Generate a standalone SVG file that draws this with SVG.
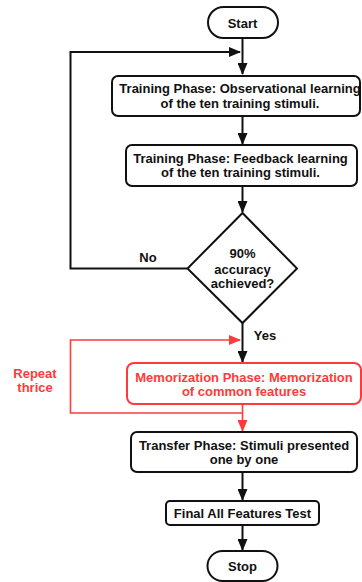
<svg xmlns="http://www.w3.org/2000/svg" width="362" height="582" viewBox="0 0 362 582">
<style>
text{font-family:"Liberation Sans",Arial,sans-serif;font-weight:bold;font-size:13px;text-anchor:middle;fill:#111}
.box{fill:#fff;stroke:#111;stroke-width:2}
.red{fill:#fff;stroke:#ff3a3a;stroke-width:2}
.rt{fill:#ff3a3a}
.ln{fill:none;stroke:#111;stroke-width:2}
.rl{fill:none;stroke:#ff3a3a;stroke-width:1.6}
</style>
<defs>
<marker id="ah" markerWidth="12" markerHeight="10" refX="11" refY="5" orient="auto" markerUnits="userSpaceOnUse">
<path d="M0,0 L12,5 L0,10 Z" fill="#111"/>
</marker>
<marker id="ahr" markerWidth="12" markerHeight="10" refX="11" refY="5" orient="auto" markerUnits="userSpaceOnUse">
<path d="M0,0 L12,5 L0,10 Z" fill="#ff3a3a"/>
</marker>
</defs>
<rect width="362" height="582" fill="#fff"/>
<g id="connectors">
<line class="ln" x1="242.5" y1="38" x2="242.5" y2="74" marker-end="url(#ah)"/>
<line class="ln" x1="242.5" y1="116" x2="242.5" y2="144" marker-end="url(#ah)"/>
<line class="ln" x1="242.5" y1="186" x2="242.5" y2="212" marker-end="url(#ah)"/>
<polyline class="ln" points="187,268.5 70.5,268.5 70.5,52 240,52" marker-end="url(#ah)"/>
<line class="ln" x1="242.5" y1="323" x2="242.5" y2="362" marker-end="url(#ah)"/>
<polyline class="rl" points="242.5,413 70.5,413 70.5,340 240,340" marker-end="url(#ahr)"/>
<line class="rl" x1="242.5" y1="404" x2="242.5" y2="431" stroke-width="2" marker-end="url(#ahr)"/>
<line class="ln" x1="242.5" y1="472" x2="242.5" y2="500" marker-end="url(#ah)"/>
<line class="ln" x1="242.5" y1="525" x2="242.5" y2="550" marker-end="url(#ah)"/>
<text x="148" y="262">No</text>
<text x="265" y="339.5">Yes</text>
</g>
<g id="start">
<rect class="box" x="208" y="7" width="70" height="31" rx="15.5"/>
<text x="242.5" y="27.5">Start</text>
</g>
<g id="observational">
<rect class="box" x="112" y="76" width="248" height="40" rx="6"/>
<text x="240" y="93">Training Phase: Observational learning</text>
<text x="240" y="107.5">of the ten training stimuli.</text>
</g>
<g id="feedback">
<rect class="box" x="126" y="145" width="231" height="41" rx="6"/>
<text x="240.5" y="162.5">Training Phase: Feedback learning</text>
<text x="240.5" y="177">of the ten training stimuli.</text>
</g>
<g id="decision">
<polygon class="box" points="242.5,213 297,268.5 242.5,323 187.5,268.5"/>
<text x="242.5" y="258">90%</text>
<text x="242.5" y="273.5">accuracy</text>
<text x="242.5" y="288">achieved?</text>
</g>
<g id="memorization">
<rect class="red" x="127" y="363" width="234" height="41" rx="7"/>
<text class="rt" x="244" y="381.5">Memorization Phase: Memorization</text>
<text class="rt" x="244" y="396">of common features</text>
</g>
<g id="repeat">
<text class="rt" x="35" y="378">Repeat</text>
<text class="rt" x="35" y="392">thrice</text>
</g>
<g id="transfer">
<rect class="box" x="131" y="432" width="226" height="40" rx="6"/>
<text x="244" y="449.5">Transfer Phase: Stimuli presented</text>
<text x="244" y="464">one by one</text>
</g>
<g id="final">
<rect class="box" x="166" y="501" width="153" height="24" rx="4"/>
<text x="242.5" y="517.5">Final All Features Test</text>
</g>
<g id="stop">
<rect class="box" x="207.5" y="551" width="70" height="30" rx="15"/>
<text x="242.5" y="571">Stop</text>
</g>
</svg>
